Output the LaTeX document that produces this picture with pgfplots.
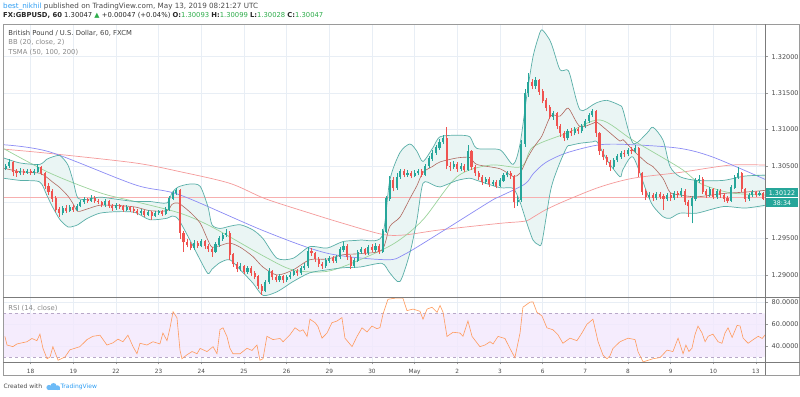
\documentclass[border=0pt]{standalone}
\usepackage{fontspec}
\setmainfont{DejaVu Sans}
\usepackage{pgfplots}
\pgfplotsset{compat=1.18}
\usepackage{pgfplotstable}
\definecolor{upc}{HTML}{26A69A}
\definecolor{dnc}{HTML}{EF5350}
\definecolor{bbline}{HTML}{5AAFA8}
\definecolor{bbfill}{HTML}{EAF5F4}
\definecolor{bbmid}{HTML}{B0685F}
\definecolor{smaA}{HTML}{9BD39B}
\definecolor{smaB}{HTML}{8C8CF5}
\definecolor{smaC}{HTML}{F59A9A}
\definecolor{rsiline}{HTML}{FF9A5C}
\definecolor{rsifill}{HTML}{F3E8FD}
\definecolor{rsidash}{HTML}{B8A8C8}
\definecolor{gridc}{HTML}{E8EEF5}
\definecolor{bordc}{HTML}{9A9A9A}
\definecolor{txt}{HTML}{4A4A4A}
\definecolor{lgray}{HTML}{8A8A8A}
\definecolor{tvblue}{HTML}{2E9EF4}
\definecolor{grn}{HTML}{2EAD4B}
\definecolor{pline}{HTML}{F7AFAF}

\pgfplotstableread{
t o h l c
-14 1.3046 1.3053 1.3044 1.3050
-12 1.3050 1.3059 1.3047 1.3055
-10 1.3055 1.3056 1.3036 1.3042
-8 1.3042 1.3046 1.3035 1.3040
-6 1.3040 1.3047 1.3037 1.3043
-4 1.3043 1.3046 1.3038 1.3041
-2 1.3041 1.3045 1.3039 1.3043
0 1.3043 1.3045 1.3037 1.3040
2 1.3040 1.3045 1.3038 1.3042
4 1.3042 1.3052 1.3040 1.3048
6 1.3048 1.3050 1.3037 1.3040
8 1.3040 1.3042 1.3018 1.3022
10 1.3022 1.3026 1.3010 1.3015
12 1.3015 1.3018 1.3000 1.3005
14 1.3005 1.3008 1.2986 1.2990
16 1.2990 1.2994 1.2980 1.2985
18 1.2985 1.2995 1.2982 1.2992
20 1.2992 1.2996 1.2985 1.2988
22 1.2988 1.2996 1.2986 1.2993
24 1.2993 1.2996 1.2987 1.2990
26 1.2990 1.2998 1.2988 1.2995
28 1.2995 1.3003 1.2993 1.3000
30 1.3000 1.3007 1.2998 1.3004
32 1.3004 1.3006 1.2999 1.3002
34 1.3002 1.3010 1.3000 1.3006
36 1.3006 1.3008 1.2999 1.3002
38 1.3002 1.3005 1.2997 1.3000
40 1.3000 1.3002 1.2993 1.2996
42 1.2996 1.3004 1.2994 1.3001
44 1.3001 1.3003 1.2992 1.2995
46 1.2995 1.2998 1.2988 1.2992
48 1.2992 1.2999 1.2990 1.2996
50 1.2996 1.2998 1.2991 1.2994
52 1.2994 1.2996 1.2987 1.2990
54 1.2990 1.2996 1.2988 1.2993
56 1.2993 1.2995 1.2987 1.2990
58 1.2990 1.2993 1.2985 1.2988
60 1.2988 1.2991 1.2982 1.2985
62 1.2985 1.2991 1.2983 1.2988
64 1.2988 1.2990 1.2980 1.2983
66 1.2983 1.2989 1.2981 1.2986
68 1.2986 1.2988 1.2976 1.2982
70 1.2982 1.2988 1.2980 1.2985
72 1.2985 1.2990 1.2983 1.2988
74 1.2988 1.2990 1.2981 1.2984
76 1.2984 1.2993 1.2982 1.2990
78 1.2990 1.3008 1.2988 1.3005
80 1.3005 1.3016 1.3003 1.3013
82 1.3013 1.3019 1.3010 1.3016
84 1.3016 1.3018 1.2950 1.2958
86 1.2958 1.2960 1.2932 1.2945
88 1.2945 1.2949 1.2938 1.2942
90 1.2942 1.2946 1.2934 1.2938
92 1.2938 1.2948 1.2935 1.2944
94 1.2944 1.2947 1.2937 1.2940
96 1.2940 1.2949 1.2938 1.2946
98 1.2946 1.2948 1.2936 1.2940
100 1.2940 1.2942 1.2932 1.2936
102 1.2936 1.2939 1.2925 1.2932
104 1.2932 1.2945 1.2930 1.2942
106 1.2942 1.2953 1.2939 1.2950
108 1.2950 1.2958 1.2947 1.2955
110 1.2955 1.2963 1.2952 1.2958
112 1.2958 1.2960 1.2920 1.2928
114 1.2928 1.2930 1.2911 1.2915
116 1.2915 1.2918 1.2904 1.2908
118 1.2908 1.2916 1.2905 1.2912
120 1.2912 1.2914 1.2901 1.2905
122 1.2905 1.2913 1.2902 1.2910
124 1.2910 1.2912 1.2899 1.2903
126 1.2903 1.2906 1.2894 1.2898
128 1.2898 1.2900 1.2881 1.2885
130 1.2885 1.2888 1.2873 1.2878
132 1.2878 1.2893 1.2876 1.2890
134 1.2890 1.2910 1.2888 1.2905
136 1.2905 1.2907 1.2893 1.2897
138 1.2897 1.2900 1.2890 1.2894
140 1.2894 1.2901 1.2891 1.2898
142 1.2898 1.2900 1.2889 1.2893
144 1.2893 1.2900 1.2890 1.2897
146 1.2897 1.2904 1.2894 1.2900
148 1.2900 1.2908 1.2898 1.2905
150 1.2905 1.2908 1.2899 1.2903
152 1.2903 1.2913 1.2900 1.2910
154 1.2910 1.2916 1.2907 1.2912
156 1.2912 1.2939 1.2910 1.2933
158 1.2933 1.2937 1.2926 1.2930
160 1.2930 1.2932 1.2918 1.2922
162 1.2922 1.2925 1.2911 1.2915
164 1.2915 1.2918 1.2908 1.2912
166 1.2912 1.2923 1.2910 1.2920
168 1.2920 1.2926 1.2917 1.2923
170 1.2923 1.2926 1.2916 1.2920
172 1.2920 1.2928 1.2917 1.2925
174 1.2925 1.2938 1.2922 1.2935
176 1.2935 1.2945 1.2932 1.2940
178 1.2940 1.2942 1.2921 1.2925
180 1.2925 1.2927 1.2908 1.2913
182 1.2913 1.2924 1.2910 1.2920
184 1.2920 1.2935 1.2918 1.2932
186 1.2932 1.2938 1.2929 1.2935
188 1.2935 1.2937 1.2927 1.2930
190 1.2930 1.2941 1.2928 1.2938
192 1.2938 1.2942 1.2932 1.2935
194 1.2935 1.2944 1.2932 1.2940
196 1.2940 1.2942 1.2929 1.2932
198 1.2932 1.2963 1.2930 1.2960
200 1.2960 1.3008 1.2958 1.3005
202 1.3005 1.3036 1.3002 1.3030
204 1.3030 1.3034 1.3015 1.3020
206 1.3020 1.3040 1.3017 1.3035
208 1.3035 1.3046 1.3032 1.3042
210 1.3042 1.3045 1.3034 1.3038
212 1.3038 1.3044 1.3035 1.3040
214 1.3040 1.3043 1.3033 1.3036
216 1.3036 1.3044 1.3034 1.3040
218 1.3040 1.3046 1.3037 1.3042
220 1.3042 1.3045 1.3035 1.3038
222 1.3038 1.3053 1.3036 1.3050
224 1.3050 1.3064 1.3047 1.3060
226 1.3060 1.3072 1.3057 1.3068
228 1.3068 1.3079 1.3065 1.3075
230 1.3075 1.3087 1.3072 1.3083
232 1.3083 1.3092 1.3080 1.3088
234 1.3088 1.3103 1.3045 1.3050
236 1.3050 1.3055 1.3043 1.3048
238 1.3048 1.3056 1.3045 1.3052
240 1.3052 1.3055 1.3042 1.3046
242 1.3046 1.3054 1.3043 1.3050
244 1.3050 1.3053 1.3041 1.3045
246 1.3045 1.3079 1.3043 1.3070
248 1.3070 1.3072 1.3044 1.3048
250 1.3048 1.3051 1.3036 1.3040
252 1.3040 1.3043 1.3030 1.3035
254 1.3035 1.3038 1.3024 1.3028
256 1.3028 1.3035 1.3025 1.3032
258 1.3032 1.3034 1.3021 1.3025
260 1.3025 1.3031 1.3022 1.3028
262 1.3028 1.3030 1.3019 1.3023
264 1.3023 1.3033 1.3021 1.3030
266 1.3030 1.3040 1.3028 1.3037
268 1.3037 1.3043 1.3034 1.3040
270 1.3040 1.3043 1.3032 1.3036
272 1.3036 1.3038 1.2992 1.3000
274 1.3000 1.3008 1.2995 1.3003
276 1.3003 1.3085 1.3000 1.3080
278 1.3080 1.3155 1.3076 1.3150
280 1.3150 1.3178 1.3145 1.3165
282 1.3165 1.3170 1.3155 1.3160
284 1.3160 1.3172 1.3156 1.3168
286 1.3168 1.3170 1.3148 1.3152
288 1.3152 1.3155 1.3136 1.3140
290 1.3140 1.3143 1.3125 1.3130
292 1.3130 1.3133 1.3114 1.3118
294 1.3118 1.3126 1.3113 1.3122
296 1.3122 1.3124 1.3100 1.3105
298 1.3105 1.3108 1.3090 1.3095
300 1.3095 1.3098 1.3084 1.3088
302 1.3088 1.3101 1.3085 1.3098
304 1.3098 1.3102 1.3091 1.3095
306 1.3095 1.3104 1.3092 1.3100
308 1.3100 1.3103 1.3094 1.3098
310 1.3098 1.3108 1.3095 1.3105
312 1.3105 1.3115 1.3102 1.3112
314 1.3112 1.3123 1.3109 1.3120
316 1.3120 1.3128 1.3117 1.3125
318 1.3125 1.3127 1.3090 1.3095
320 1.3095 1.3097 1.3065 1.3070
322 1.3070 1.3073 1.3058 1.3062
324 1.3062 1.3065 1.3051 1.3055
326 1.3055 1.3058 1.3043 1.3048
328 1.3048 1.3061 1.3046 1.3058
330 1.3058 1.3066 1.3055 1.3063
332 1.3063 1.3071 1.3060 1.3068
334 1.3068 1.3072 1.3062 1.3066
336 1.3066 1.3075 1.3063 1.3072
338 1.3072 1.3076 1.3066 1.3070
340 1.3070 1.3078 1.3067 1.3074
342 1.3074 1.3076 1.3035 1.3040
344 1.3040 1.3042 1.3010 1.3015
346 1.3015 1.3018 1.3003 1.3008
348 1.3008 1.3014 1.3004 1.3010
350 1.3010 1.3013 1.3002 1.3006
352 1.3006 1.3014 1.3003 1.3011
354 1.3011 1.3014 1.3004 1.3008
356 1.3008 1.3011 1.2990 1.3005
358 1.3005 1.3013 1.3002 1.3010
360 1.3010 1.3013 1.3002 1.3006
362 1.3006 1.3015 1.3003 1.3012
364 1.3012 1.3016 1.3006 1.3010
366 1.3010 1.3020 1.3007 1.3015
368 1.3015 1.3018 1.2996 1.3000
370 1.3000 1.3003 1.2980 1.2995
372 1.2995 1.3008 1.2971 1.3005
374 1.3005 1.3033 1.3002 1.3030
376 1.3030 1.3037 1.3026 1.3032
378 1.3032 1.3034 1.3011 1.3015
380 1.3015 1.3018 1.3006 1.3010
382 1.3010 1.3021 1.3007 1.3018
384 1.3018 1.3020 1.3004 1.3008
386 1.3008 1.3018 1.3005 1.3015
388 1.3015 1.3018 1.3006 1.3010
390 1.3010 1.3013 1.3001 1.3005
392 1.3005 1.3008 1.2999 1.3002
394 1.3002 1.3023 1.3000 1.3020
396 1.3020 1.3038 1.3018 1.3035
398 1.3035 1.3048 1.3032 1.3040
400 1.3040 1.3042 1.3014 1.3018
402 1.3018 1.3020 1.3001 1.3005
404 1.3005 1.3013 1.3002 1.3010
406 1.3010 1.3017 1.3007 1.3014
408 1.3014 1.3016 1.3007 1.3010
410 1.3010 1.3015 1.3008 1.3012
412 1.3012 1.3014 1.3003 1.3005
}\candles

\pgfplotstableread{
t u l
-15.4 1.3061 1.3033
-6 1.3054 1.3030
5 1.3052 1.3028
9 1.3059 1.3010
12 1.3062 1.2995
16.5 1.3064 1.2976
21 1.3051 1.2966
24 1.3028 1.2967
26.5 1.3006 1.2969
32 1.3004 1.2978
39 1.3007 1.2985
48.6 1.3004 1.2987
58.7 1.3001 1.2986
67 1.3001 1.2976
76.7 1.2999 1.2978
79.5 1.3013 1.2981
83 1.3021 1.2977
89.6 1.3025 1.2948
95.3 1.3022 1.2921
99.7 1.2994 1.2902
102 1.2969 1.2908
106.5 1.2964 1.2917
112 1.2967 1.2921
118 1.2969 1.2907
125 1.2962 1.2889
130.7 1.2950 1.2872
138.6 1.2923 1.2877
147.6 1.2923 1.2891
157 1.2939 1.2903
166.7 1.2937 1.2907
175.7 1.2946 1.2910
185.3 1.2948 1.2911
197.6 1.2953 1.2916
202 1.3030 1.2903
207.7 1.3068 1.2891
213.3 1.3080 1.2930
217.3 1.3070 1.2976
220.7 1.3056 1.3026
226.3 1.3075 1.3024
230.3 1.3090 1.3021
240 1.3092 1.3030
247 1.3090 1.3033
251 1.3074 1.3030
264 1.3072 1.3020
271.4 1.3052 1.3019
275.3 1.3080 1.3000
279.3 1.3150 1.2970
282.6 1.3200 1.2948
285.4 1.3225 1.2942
287.6 1.3237 1.2945
292 1.3223 1.3010
294 1.3210 1.3030
297.8 1.3182 1.3055
301.7 1.3182 1.3076
303.4 1.3175 1.3078
309 1.3127 1.3081
316.3 1.3134 1.3083
318.6 1.3137 1.3083
324.2 1.3140 1.3058
331.5 1.3133 1.3035
333.2 1.3127 1.3045
338.9 1.3081 1.3062
346.7 1.3095 1.3013
350.1 1.3103 1.2995
355.8 1.3085 1.2980
359.7 1.3049 1.2978
365.3 1.3035 1.2985
374.8 1.3030 1.2985
389.5 1.3030 1.2994
401.9 1.3036 1.2992
413.5 1.3037 1.2996
}\bb

% band outline: upper band forward, lower band backward
\pgfplotstableread{
t p
-15.4 1.3061
-6 1.3054
5 1.3052
9 1.3059
12 1.3062
16.5 1.3064
21 1.3051
24 1.3028
26.5 1.3006
32 1.3004
39 1.3007
48.6 1.3004
58.7 1.3001
67 1.3001
76.7 1.2999
79.5 1.3013
83 1.3021
89.6 1.3025
95.3 1.3022
99.7 1.2994
102 1.2969
106.5 1.2964
112 1.2967
118 1.2969
125 1.2962
130.7 1.2950
138.6 1.2923
147.6 1.2923
157 1.2939
166.7 1.2937
175.7 1.2946
185.3 1.2948
197.6 1.2953
202 1.3030
207.7 1.3068
213.3 1.3080
217.3 1.3070
220.7 1.3056
226.3 1.3075
230.3 1.3090
240 1.3092
247 1.3090
251 1.3074
264 1.3072
271.4 1.3052
275.3 1.3080
279.3 1.3150
282.6 1.3200
285.4 1.3225
287.6 1.3237
292 1.3223
294 1.3210
297.8 1.3182
301.7 1.3182
303.4 1.3175
309 1.3127
316.3 1.3134
318.6 1.3137
324.2 1.3140
331.5 1.3133
333.2 1.3127
338.9 1.3081
346.7 1.3095
350.1 1.3103
355.8 1.3085
359.7 1.3049
365.3 1.3035
374.8 1.3030
389.5 1.3030
401.9 1.3036
413.5 1.3037
413.5 1.2996
401.9 1.2992
389.5 1.2994
374.8 1.2985
365.3 1.2985
359.7 1.2978
355.8 1.2980
350.1 1.2995
346.7 1.3013
338.9 1.3062
333.2 1.3045
331.5 1.3035
324.2 1.3058
318.6 1.3083
316.3 1.3083
309 1.3081
303.4 1.3078
301.7 1.3076
297.8 1.3055
294 1.3030
292 1.3010
287.6 1.2945
285.4 1.2942
282.6 1.2948
279.3 1.2970
275.3 1.3000
271.4 1.3019
264 1.3020
251 1.3030
247 1.3033
240 1.3030
230.3 1.3021
226.3 1.3024
220.7 1.3026
217.3 1.2976
213.3 1.2930
207.7 1.2891
202 1.2903
197.6 1.2916
185.3 1.2911
175.7 1.2910
166.7 1.2907
157 1.2903
147.6 1.2891
138.6 1.2877
130.7 1.2872
125 1.2889
118 1.2907
112 1.2921
106.5 1.2917
102 1.2908
99.7 1.2902
95.3 1.2921
89.6 1.2948
83 1.2977
79.5 1.2981
76.7 1.2978
67 1.2976
58.7 1.2986
48.6 1.2987
39 1.2985
32 1.2978
26.5 1.2969
24 1.2967
21 1.2966
16.5 1.2976
12 1.2995
9 1.3010
5 1.3028
-6 1.3030
-15.4 1.3033
}\bandpoly

\pgfplotstableread{
t v
-15.4 1.3073
10.9 1.3067
58.7 1.3054
84 1.3042
112 1.3026
131.8 1.3005
157.1 1.2985
175.7 1.2971
197.6 1.2956
210 1.2955
230.3 1.2962
264 1.2971
278 1.2974
283 1.2980
290 1.2990
301.7 1.3003
320.3 1.3021
338.9 1.3033
365.3 1.3041
393.5 1.3051
413.5 1.3051
}\smaCt

\pgfplotstableread{
t v
-15.4 1.3079
10.9 1.3069
58.7 1.3024
84 1.3010
131.8 1.2960
166.7 1.2930
200 1.2921
210 1.2928
230.3 1.2958
258.4 1.3001
264 1.3008
278 1.3025
283 1.3040
290 1.3055
301.7 1.3068
320.3 1.3079
338.9 1.3079
365.3 1.3074
383.8 1.3062
413.5 1.3031
}\smaBt

\pgfplotstableread{
t v
-15.4 1.3074
10.9 1.3040
39 1.3013
58.7 1.3001
84 1.2985
102 1.2966
131.8 1.2925
147.6 1.2907
166.7 1.2905
185.3 1.2921
204.9 1.2944
220.7 1.2976
239.8 1.3035
258.4 1.3051
276 1.3049
282.6 1.3076
301.7 1.3095
320.3 1.3113
338.9 1.3085
365.3 1.3047
376.6 1.3026
393.5 1.3013
413.5 1.3010
}\smaAt

\pgfplotstableread{
t r
-14.5 48.9
-13.3 41
-10 39.5
-7.7 42
-2.1 44
0.7 47
3.5 45
5.2 51
6.9 38
9.2 28.4
10.9 30
12.5 39.5
15.4 27
19.3 30
22.1 36.6
27.7 39.5
31.7 46
35 49
39 50
42.9 41
46.3 43
49.1 46.4
51.9 44
54.7 50
57.6 39.5
59.8 33
61.5 42.6
65.4 41
68.8 44
72.7 42
74.4 52
76.7 45
78.4 56.8
80.1 71.6
82.3 66
84 36.3
85.1 28.4
87.9 32
90.8 35
93.6 33
95.3 37.9
99.2 35
102.6 39.5
104.8 33
106.5 55.2
108.2 56.8
110.4 48.9
112.1 38
113.8 33
117.8 33
121.7 38
124.5 36
127.3 41
129 27
130.7 28.4
132.9 49
136.3 46
140.3 47
142 44
145.9 50.5
148.7 56.8
151.5 53.6
153.2 55
155.5 48.9
157.1 64.7
160 61.5
161.6 58
163.9 47.3
166.7 52
169.5 61.5
172.3 63
175.1 66.2
176.8 47.3
180.8 39.5
183.6 48.9
186.4 56.8
189.2 53
192 58.4
194.8 56
196.5 57
198.2 69.4
201 83
204.9 84
209.4 84
211.7 72.6
215.1 74
219 72
220.7 64.7
223 74
225.8 75.7
228.6 71
230.3 77.3
232 71
234.2 48.9
237.6 52.7
241.5 52
243.2 49
246 63.1
248.3 48.9
252.7 39.5
255.6 41
258.4 44
260.1 42
262.9 48.9
266.8 47
269.6 37.9
272.4 29.4
275.3 52
276.9 75.7
280.9 80.4
282.6 80.6
284.8 71
287.6 67.8
290.4 56.8
293.8 55
296.6 50.5
299.4 42.6
303.4 47.3
307.3 45
310.1 52
312.9 60
316.3 64.7
319.2 44
322 31.6
324.2 28.4
325.9 31
327.6 37.9
331.5 44
334.3 46
336 47.3
340 46
341.7 34.7
344.5 25.5
350.1 28.4
354.1 29.5
358 36.3
361.3 35
364.2 47.3
367 33
368.6 41
370.3 35
372 38
373.7 50.5
375.4 58.4
377.7 52
379.4 44
381.1 49
383.8 51
386.7 44
388.9 42.6
390.6 52
392.3 56.8
394.6 48
397.4 59
399.1 58.5
400.8 47.3
403.6 42.6
406.5 46
409.3 49
411.5 47
413.3 50.5
}\rsi

\pgfplotsset{
  updown/.style={
    colormap={ud}{color(0cm)=(dnc) color(1cm)=(upc)},
    colormap access=piecewise constant,
    point meta={\thisrow{c}-\thisrow{o}},
    point meta min=-0.00001, point meta max=0.00001,
  }
}

\begin{document}
\begin{tikzpicture}
\useasboundingbox (0pt,0pt) rectangle (800pt,396pt);
\fill[white] (0pt,0pt) rectangle (800pt,396pt);

% ---------- main price panel ----------
\begin{axis}[
  at={(3.3pt,99pt)}, anchor=south west, scale only axis,
  width=762.4pt, height=273pt,
  xmin=-15.4, xmax=413.5, ymin=1.28698, ymax=1.32449,
  axis line style={draw=none},
  xtick={0,24,48,72,96,120,144,168,192,216,240,264,288,312,336,360,384,408},
  xticklabels={}, major x tick style={draw=none},
  ytick={1.29,1.295,1.30,1.305,1.31,1.315,1.32},
  yticklabels={1.29000,1.29500,,1.30500,1.31000,1.31500,1.32000},
  ytick pos=right, yticklabel pos=right, scaled y ticks=false,
  major y tick style={draw=bordc, line width=0.5pt},
  tick align=outside, major tick length=2.5pt,
  yticklabel style={font=\fontsize{6.5}{7}\selectfont, text=txt},
  grid=major, major grid style={draw=gridc, line width=0.6pt},
  clip=true,
]
% Bollinger band fill
\addplot[fill=bbfill, draw=none, smooth, tension=0.45, forget plot] table[x=t, y=p]{\bandpoly};
% price line
\addplot[pline, line width=0.9pt, forget plot] coordinates {(-15.4,1.3006) (413.5,1.3006)};
% moving averages
\addplot[smaC, line width=0.7pt, smooth, forget plot] table[x=t, y=v]{\smaCt};
\addplot[smaB, line width=0.7pt, smooth, forget plot] table[x=t, y=v]{\smaBt};
\addplot[smaA, line width=0.7pt, smooth, forget plot] table[x=t, y=v]{\smaAt};
\addplot[bbmid, line width=0.6pt, smooth, tension=0.45, forget plot] table[x=t, y expr={(\thisrow{u}+\thisrow{l})/2}]{\bb};
\addplot[bbline, line width=0.7pt, smooth, tension=0.45, forget plot] table[x=t, y=u]{\bb};
\addplot[bbline, line width=0.7pt, smooth, tension=0.45, forget plot] table[x=t, y=l]{\bb};
% candles: wicks
\addplot[updown, forget plot,
  quiver={u=0, v={\thisrow{h}-\thisrow{l}},
    every arrow/.append style={-, line width=0.6pt, draw=mapped color}}]
  table[x=t, y=l]{\candles};
% candles: bodies
\addplot[updown, forget plot,
  quiver={u=0, v={abs(\thisrow{c}-\thisrow{o})+0.00005},
    every arrow/.append style={-, line width=2.1pt, draw=mapped color}}]
  table[x=t, y expr={min(\thisrow{o},\thisrow{c})-0.000025}]{\candles};
\end{axis}

% ---------- RSI panel ----------
\begin{axis}[
  at={(3.3pt,34pt)}, anchor=south west, scale only axis,
  width=762.4pt, height=65pt,
  xmin=-15.4, xmax=413.5, ymin=25.4, ymax=85.1,
  axis line style={draw=none},
  xtick={0,24,48,72,96,120,144,168,192,216,240,264,288,312,336,360,384,408},
  xticklabels={18,19,22,23,24,25,26,29,30,May,2,3,6,7,8,9,10,13},
  xtick pos=bottom, xticklabel style={font=\fontsize{5.8}{6}\selectfont, text=txt, yshift=-1pt},
  ytick={40,60,80}, ytick pos=right, yticklabel pos=right,
  yticklabel style={font=\fontsize{6.5}{7}\selectfont, text=txt,
    /pgf/number format/fixed, /pgf/number format/fixed zerofill,
    /pgf/number format/precision=4, /pgf/number format/assume math mode=true},
  tick align=outside, major tick length=2.5pt,
  major tick style={draw=bordc, line width=0.5pt},
  grid=major, major grid style={draw=gridc, line width=0.6pt},
  clip=true,
]
\addplot[draw=none, fill=rsifill, fill opacity=0.8, forget plot] coordinates {(-15.4,30) (413.5,30) (413.5,70) (-15.4,70) (-15.4,30)};
\addplot[rsidash, dashed, line width=0.5pt, forget plot] coordinates {(-15.4,70) (413.5,70)};
\addplot[rsidash, dashed, line width=0.5pt, forget plot] coordinates {(-15.4,30) (413.5,30)};
\addplot[rsiline, line width=0.6pt, forget plot] table[x=t, y=r]{\rsi};
\end{axis}

% ---------- frames, labels ----------
\begin{scope}[x=1pt, y=1pt]
\draw[bordc, line width=0.6pt] (3.3,21) rectangle (799.5,372);
\draw[bordc!80!black, line width=0.8pt] (765.7,21) -- (765.7,372);
\draw[bordc!80!black, line width=0.8pt] (3.3,99) -- (799.5,99);
\draw[bordc!80!black, line width=0.8pt] (3.3,34) -- (799.5,34);
% price boxes
\fill[upc] (766.2,198.5) rectangle (798,207.5);
\node[text=white, font=\fontsize{6.3}{7}\selectfont] at (782,203) {1.30122};
\fill[upc] (766.2,188.5) rectangle (798,197.8);
\node[text=white, font=\fontsize{6.3}{7}\selectfont] at (782,193.2) {38:34};
% header
\node[anchor=base west, inner sep=0pt, font=\fontsize{7.2}{8}\selectfont, text=txt] at (3,387.5)
  {{\color{tvblue}best\_nikhil} published on TradingView.com, May 13, 2019 08:21:27 UTC};
\node[anchor=base west, inner sep=0pt, font=\fontsize{6.8}{8}\selectfont, text=black!85] at (3,378)
  {\textbf{FX:GBPUSD, 60} 1.30047 {\color{grn}▲} +0.00047 (+0.04\%) \textbf{O:}{\color{grn}1.30093} \textbf{H:}{\color{grn}1.30099} \textbf{L:}{\color{grn}1.30028} \textbf{C:}{\color{grn}1.30047}};
\node[anchor=base west, inner sep=0pt, font=\fontsize{6.8}{8}\selectfont, text=black!75] at (8.3,360.5)
  {British Pound / U.S. Dollar, 60, FXCM};
\node[anchor=base west, inner sep=0pt, font=\fontsize{6.8}{8}\selectfont, text=lgray] at (8.3,351)
  {BB (20, close, 2)};
\node[anchor=base west, inner sep=0pt, font=\fontsize{6.8}{8}\selectfont, text=lgray] at (8.3,341)
  {TSMA (50, 100, 200)};
\node[anchor=base west, inner sep=0pt, font=\fontsize{6.8}{8}\selectfont, text=lgray] at (8.3,85.5)
  {RSI (14, close)};
% footer
\node[anchor=base west, inner sep=0pt, font=\fontsize{6}{7}\selectfont, text=txt] at (3.5,7)
  {Created with};
\fill[tvblue!70] (49,8.5) circle (2.6);
\fill[tvblue!70] (53.5,9.8) circle (3.2);
\fill[tvblue!70] (57.5,8.3) circle (2.4);
\fill[tvblue!70] (47.5,6.2) rectangle (59.5,8.6);
\node[anchor=base west, inner sep=0pt, font=\fontsize{6}{7}\selectfont, text=tvblue] at (60.5,7)
  {TradingView};
\end{scope}
\end{tikzpicture}
\end{document}
